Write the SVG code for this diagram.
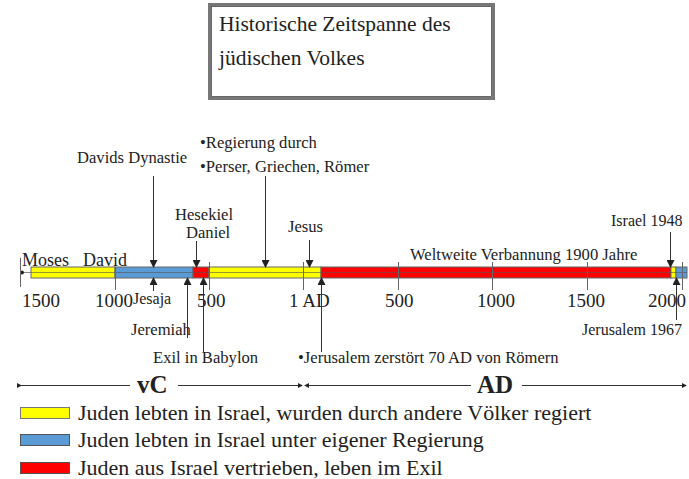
<svg xmlns="http://www.w3.org/2000/svg" width="689" height="479" viewBox="0 0 689 479">
<style>
text{font-family:"Liberation Serif","Times New Roman",serif;fill:#222}
.t{font-size:16.6px}
.y{font-size:19px}
.m{font-size:18px}
.s{font-size:16px}
.lg{font-size:22px}
.b{font-size:25px;font-weight:bold}
.ar{stroke:#333;stroke-width:1;fill:none;marker-end:url(#ah)}
.tk{stroke:#666;stroke-width:1}
.seg{stroke:#666;stroke-width:1}
</style>
<defs>
<marker id="ah" viewBox="0 0 8 8" refX="7" refY="4" markerWidth="8" markerHeight="8" markerUnits="userSpaceOnUse" orient="auto">
<path d="M0,0 L8,4 L0,8 z" fill="#222"/>
</marker>
<marker id="sa" viewBox="0 0 6 6" refX="5" refY="3" markerWidth="5" markerHeight="5" markerUnits="userSpaceOnUse" orient="auto">
<path d="M0,0 L6,3 L0,6 z" fill="#222"/>
</marker>
</defs>

<g id="title">
<rect x="209.5" y="4.5" width="284" height="94" fill="#fff" stroke="#777" stroke-width="3"/>
<rect x="211.5" y="6.5" width="280" height="90" fill="none" stroke="#444" stroke-width="0.8"/>
<text x="219" y="31" font-size="21.5">Historische Zeitspanne des</text>
<text x="219" y="65" font-size="21.5">jüdischen Volkes</text>
</g>

<g id="timeline">
<line x1="22" y1="272.5" x2="31" y2="272.5" stroke="#888"/>
<circle cx="22" cy="272.5" r="2" fill="#222"/>
<line class="tk" x1="20.5" y1="258" x2="20.5" y2="287"/>
<rect class="seg" x="31" y="267" width="84" height="11" fill="#ffff00"/>
<rect class="seg" x="115" y="267" width="78" height="11" fill="#5b9bd5"/>
<rect class="seg" x="193" y="267" width="16" height="11" fill="#ff0000"/>
<rect class="seg" x="209" y="267" width="112" height="11" fill="#ffff00"/>
<rect class="seg" x="321" y="267" width="350" height="11" fill="#ff0000"/>
<rect class="seg" x="671" y="267" width="5" height="11" fill="#ffff00"/>
<rect class="seg" x="676" y="267" width="11" height="11" fill="#5b9bd5"/>
<line x1="31" y1="272.5" x2="687" y2="272.5" stroke="#555" stroke-width="1" opacity="0.6"/>
<line class="tk" x1="115.5" y1="267" x2="115.5" y2="290"/>
<line class="tk" x1="209.5" y1="262" x2="209.5" y2="290"/>
<line class="tk" x1="303.5" y1="262" x2="303.5" y2="290"/>
<line class="tk" x1="398.5" y1="262" x2="398.5" y2="290"/>
<line class="tk" x1="492.5" y1="262" x2="492.5" y2="290"/>
<line class="tk" x1="587.5" y1="262" x2="587.5" y2="290"/>
<line class="tk" x1="682.5" y1="262" x2="682.5" y2="290"/>
<text class="y" x="22" y="307">1500</text>
<text class="y" x="95" y="307">1000</text>
<text class="y" x="197" y="307">500</text>
<text class="y" x="289" y="307">1 AD</text>
<text class="y" x="385" y="307">500</text>
<text class="y" x="477" y="307">1000</text>
<text class="y" x="567" y="307">1500</text>
<text class="y" x="648" y="307">2000</text>
</g>

<g id="moses"><text class="m" x="22" y="266">Moses</text></g>
<g id="david"><text class="m" x="83" y="266">David</text></g>
<g id="davids-dynastie"><text class="t" x="77" y="163">Davids Dynastie</text></g>
<g id="regierung">
<text class="t" x="200" y="148">•Regierung durch</text>
<text class="t" x="200" y="172">•Perser, Griechen, Römer</text>
</g>
<g id="hesekiel">
<text class="t" x="175" y="220">Hesekiel</text>
<text class="t" x="186" y="238">Daniel</text>
</g>
<g id="jesus"><text class="t" x="288" y="232">Jesus</text></g>
<g id="jesaja"><text class="s" x="133" y="304">Jesaja</text></g>
<g id="jeremiah"><text class="t" x="131" y="335">Jeremiah</text></g>
<g id="exil"><text class="t" x="153" y="363">Exil in Babylon</text></g>
<g id="jerusalem70"><text class="t" x="298" y="363">•Jerusalem zerstört 70 AD von Römern</text></g>
<g id="weltweite"><text class="t" x="410" y="260">Weltweite Verbannung 1900 Jahre</text></g>
<g id="israel1948"><text class="s" x="611" y="226">Israel 1948</text></g>
<g id="jerusalem1967"><text class="s" x="582" y="335">Jerusalem 1967</text></g>

<g id="connectors">
<line class="ar" x1="153.5" y1="176" x2="153.5" y2="267"/>
<line class="ar" x1="265.5" y1="176" x2="265.5" y2="267"/>
<line class="ar" x1="196.5" y1="241" x2="196.5" y2="267"/>
<line class="ar" x1="309.5" y1="240" x2="309.5" y2="267"/>
<line class="ar" x1="670.5" y1="232" x2="670.5" y2="267"/>
<line class="ar" x1="153.5" y1="291" x2="153.5" y2="278"/>
<line class="ar" x1="187.5" y1="338" x2="187.5" y2="278"/>
<line class="ar" x1="203.5" y1="352" x2="203.5" y2="278"/>
<line class="ar" x1="321.5" y1="352" x2="321.5" y2="278"/>
<line class="ar" x1="676.5" y1="320" x2="676.5" y2="278"/>
</g>

<g id="era">
<line x1="21" y1="385.5" x2="130" y2="385.5" stroke="#333" marker-start="url(#sa)"/>
<line x1="178" y1="385.5" x2="302" y2="385.5" stroke="#333" marker-end="url(#sa)"/>
<text class="b" x="137" y="393">vC</text>
<line x1="471" y1="385.5" x2="305" y2="385.5" stroke="#333" marker-end="url(#sa)"/>
<line x1="522" y1="385.5" x2="686" y2="385.5" stroke="#333" marker-end="url(#sa)"/>
<text class="b" x="477" y="393">AD</text>
</g>

<g id="legend">
<rect x="20.5" y="407.5" width="49" height="11" fill="#ffff00" stroke="#777"/>
<text class="lg" x="78" y="420">Juden lebten in Israel, wurden durch andere Völker regiert</text>
<rect x="20.5" y="434.5" width="49" height="11" fill="#5b9bd5" stroke="#555"/>
<text class="lg" x="78" y="447">Juden lebten in Israel unter eigener Regierung</text>
<rect x="20.5" y="462.5" width="49" height="11" fill="#ff0000" stroke="#555"/>
<text class="lg" x="78" y="475">Juden aus Israel vertrieben, leben im Exil</text>
</g>
</svg>
